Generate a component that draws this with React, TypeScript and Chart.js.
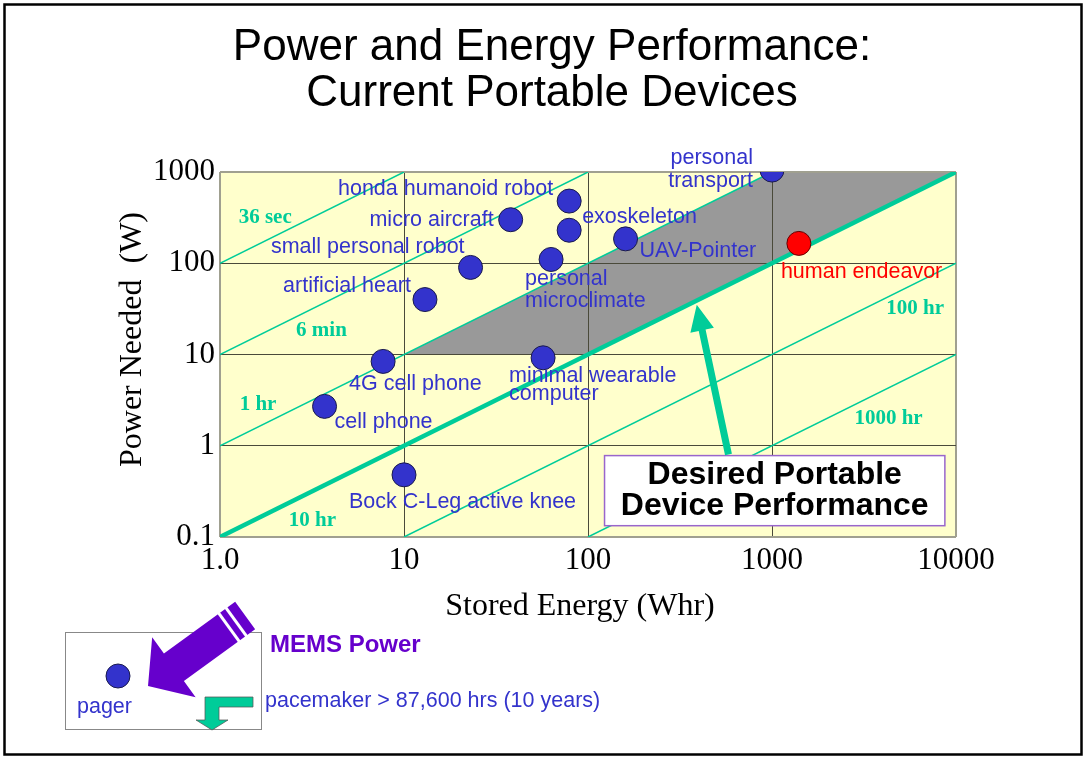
import React, { useEffect, useRef } from 'react';
import { Chart, registerables } from 'chart.js';

Chart.register(...registerables);

// ---------- data ----------
const deviceNames = [
  'honda humanoid robot',
  'exoskeleton',
  'micro aircraft',
  'small personal robot',
  'artificial heart',
  'personal\nmicroclimate',
  'UAV-Pointer',
  'personal\ntransport',
  '4G cell phone',
  'cell phone',
  'minimal wearable\ncomputer',
  'Bock C-Leg active knee',
];
const deviceEnergyWhr = [79, 79, 38, 23, 13, 63, 160, 1000, 7.7, 3.7, 57, 10];
const devicePowerW = [480, 230, 300, 90, 40, 110, 185, 1050, 8.4, 2.7, 9.2, 0.48];

const humanNames = ['human endeavor'];
const humanEnergyWhr = [1400];
const humanPowerW = [165];

const xTickValues = [1, 10, 100, 1000, 10000];
const xTickLabels = ['1.0', '10', '100', '1000', '10000'];
const yTickValues = [0.1, 1, 10, 100, 1000];
const yTickLabels = ['0.1', '1', '10', '100', '1000'];

const timeLineLabels = ['36 sec', '6 min', '1 hr', '10 hr', '100 hr', '1000 hr'];
const timeLineEnergyStart = [1, 1, 1, 1, 10, 100];
const timeLineEnergyEnd = [10, 100, 1000, 10000, 10000, 10000];
const timeLinePowerStart = [100, 10, 1, 0.1, 0.1, 0.1];
const timeLinePowerEnd = [1000, 1000, 1000, 1000, 100, 10];
const timeLabelEnergy = [1.76, 3.56, 1.61, 3.18, 6000, 4300];
const timeLabelPower = [313, 18.5, 2.8, 0.153, 31.6, 2.0];

const desiredRegionEnergy = [10, 100, 10000, 1000];
const desiredRegionPower = [10, 10, 1000, 1000];

const desiredText = ['Desired Portable', 'Device Performance'];
const titleLines = ['Power and Energy Performance:', 'Current Portable Devices'];
const xTitle = 'Stored Energy (Whr)';
const yTitle = 'Power Needed  (W)';
const memsText = 'MEMS Power';
const pagerText = 'pager';
const pacemakerText = 'pacemaker > 87,600 hrs (10 years)';

// ---------- layout / styles ----------
const SANS = '"Liberation Sans", Arial, Helvetica, sans-serif';
const SERIF = '"Liberation Serif", "Times New Roman", Times, serif';
const GREEN = '#00CC99';
const BLUE = '#3333CC';
const PURPLE = '#6600CC';

const deviceLabelLayout = [
  { align: 'right', dx: -16, dy: -12, lh: 22 },
  { align: 'left', dx: 13, dy: -13, lh: 22 },
  { align: 'right', dx: -17, dy: 0, lh: 22 },
  { align: 'right', dx: -6, dy: -20, lh: 22 },
  { align: 'right', dx: -14, dy: -13, lh: 22 },
  { align: 'left', dx: -26, dy: 20, lh: 22 },
  { align: 'left', dx: 14, dy: 12, lh: 22 },
  { align: 'right', dx: -19, dy: -12, lh: 23.5 },
  { align: 'left', dx: -34, dy: 23, lh: 22 },
  { align: 'left', dx: 10, dy: 16, lh: 22 },
  { align: 'left', dx: -34, dy: 18, lh: 18 },
  { align: 'left', dx: -55, dy: 27, lh: 22 },
];
const humanLabelLayout = [{ align: 'left', dx: -18, dy: 29, lh: 22 }];

const desiredBox = { e0: 123, e1: 8700, p0: 0.78, p1: 0.133 };
const desiredArrow = { fromE: 580, fromP: 0.8, toE: 390, toP: 35 };

const decorPlugin = {
  id: 'decor',
  beforeDraw(chart: any) {
    const { ctx, chartArea: a, scales } = chart;
    const x = scales.x;
    const y = scales.y;
    ctx.save();
    ctx.fillStyle = '#ffffff';
    ctx.fillRect(0, 0, chart.width, chart.height);
    ctx.fillStyle = '#FFFFCC';
    ctx.fillRect(a.left, a.top, a.right - a.left, a.bottom - a.top);
    ctx.beginPath();
    desiredRegionEnergy.forEach((e, i) => {
      const px = x.getPixelForValue(e);
      const py = y.getPixelForValue(desiredRegionPower[i]);
      if (i === 0) ctx.moveTo(px, py);
      else ctx.lineTo(px, py);
    });
    ctx.closePath();
    ctx.fillStyle = '#999999';
    ctx.fill();
    ctx.restore();
  },
  afterDatasetsDraw(chart: any) {
    const { ctx, scales } = chart;
    const x = scales.x;
    const y = scales.y;
    ctx.save();

    // time-line labels
    ctx.font = `bold 21px ${SERIF}`;
    ctx.fillStyle = GREEN;
    ctx.textAlign = 'center';
    ctx.textBaseline = 'middle';
    timeLineLabels.forEach((t, i) => {
      ctx.fillText(t, x.getPixelForValue(timeLabelEnergy[i]), y.getPixelForValue(timeLabelPower[i]));
    });

    // point labels
    const drawLabels = (dsIndex: number, names: string[], layout: any[], color: string) => {
      const meta = chart.getDatasetMeta(dsIndex);
      ctx.font = `21.5px ${SANS}`;
      ctx.fillStyle = color;
      ctx.textBaseline = 'middle';
      meta.data.forEach((pt: any, i: number) => {
        const L = layout[i];
        ctx.textAlign = L.align;
        names[i].split('\n').forEach((line, k) => {
          ctx.fillText(line, pt.x + L.dx, pt.y + L.dy + k * L.lh);
        });
      });
    };
    drawLabels(7, deviceNames, deviceLabelLayout, BLUE);
    drawLabels(6, humanNames, humanLabelLayout, '#FF0000');

    // desired box
    const bx0 = x.getPixelForValue(desiredBox.e0);
    const bx1 = x.getPixelForValue(desiredBox.e1);
    const by0 = y.getPixelForValue(desiredBox.p0);
    const by1 = y.getPixelForValue(desiredBox.p1);
    ctx.fillStyle = '#ffffff';
    ctx.fillRect(bx0, by0, bx1 - bx0, by1 - by0);
    ctx.strokeStyle = '#9966CC';
    ctx.lineWidth = 1.5;
    ctx.strokeRect(bx0, by0, bx1 - bx0, by1 - by0);
    ctx.fillStyle = '#000';
    ctx.font = `bold 32px ${SANS}`;
    ctx.textAlign = 'center';
    ctx.textBaseline = 'middle';
    const bcx = (bx0 + bx1) / 2;
    const bcy = (by0 + by1) / 2;
    ctx.fillText(desiredText[0], bcx, bcy - 15);
    ctx.fillText(desiredText[1], bcx, bcy + 16);

    // green arrow
    const ax0 = x.getPixelForValue(desiredArrow.fromE);
    const ay0 = y.getPixelForValue(desiredArrow.fromP);
    const ax1 = x.getPixelForValue(desiredArrow.toE);
    const ay1 = y.getPixelForValue(desiredArrow.toP);
    const len = Math.hypot(ax1 - ax0, ay1 - ay0);
    const ux = (ax1 - ax0) / len;
    const uy = (ay1 - ay0) / len;
    const nx = -uy;
    const ny = ux;
    const headL = 26;
    const headW = 12;
    const shaftW = 3.5;
    const hbx = ax1 - ux * headL;
    const hby = ay1 - uy * headL;
    ctx.fillStyle = GREEN;
    ctx.beginPath();
    ctx.moveTo(ax0 + nx * shaftW, ay0 + ny * shaftW);
    ctx.lineTo(hbx + nx * shaftW, hby + ny * shaftW);
    ctx.lineTo(hbx + nx * headW, hby + ny * headW);
    ctx.lineTo(ax1, ay1);
    ctx.lineTo(hbx - nx * headW, hby - ny * headW);
    ctx.lineTo(hbx - nx * shaftW, hby - ny * shaftW);
    ctx.lineTo(ax0 - nx * shaftW, ay0 - ny * shaftW);
    ctx.closePath();
    ctx.fill();
    ctx.restore();
  },
  afterDraw(chart: any) {
    const { ctx, chartArea: a } = chart;
    ctx.save();
    // title
    ctx.fillStyle = '#000';
    ctx.font = `44px ${SANS}`;
    ctx.textAlign = 'center';
    ctx.textBaseline = 'alphabetic';
    ctx.fillText(titleLines[0], 552, 60);
    ctx.fillText(titleLines[1], 552, 106);

    // axis titles
    ctx.font = `32px ${SERIF}`;
    ctx.textBaseline = 'middle';
    ctx.fillText(xTitle, (a.left + a.right) / 2 - 8, 607);
    ctx.save();
    ctx.translate(133, (a.top + a.bottom) / 2-15);
    ctx.rotate(-Math.PI / 2);
    ctx.fillText(yTitle, 0, 0);
    ctx.restore();

    // bottom inset box
    ctx.strokeStyle = '#888';
    ctx.lineWidth = 1;
    ctx.strokeRect(65.5, 632.5, 196, 97);
    // pager dot
    ctx.beginPath();
    ctx.arc(118, 676, 12, 0, Math.PI * 2);
    ctx.fillStyle = BLUE;
    ctx.fill();
    ctx.strokeStyle = '#1a1a4d';
    ctx.stroke();
    ctx.font = `21.5px ${SANS}`;
    ctx.fillStyle = BLUE;
    ctx.textAlign = 'left';
    ctx.fillText(pagerText, 77, 707);

    // purple arrow
    const tx = 148, ty = 686;
    const ux = 0.8095, uy = -0.5873;
    const nx = 0.5873, ny = 0.8095;
    const P = (d: number, w: number) => [tx + ux * d + nx * w, ty + uy * d + ny * w];
    const pts = [P(0, 0), P(32, 37), P(32, 17), P(120, 17), P(120, -17), P(32, -17), P(32, -37)];
    ctx.beginPath();
    pts.forEach((p, i) => (i ? ctx.lineTo(p[0], p[1]) : ctx.moveTo(p[0], p[1])));
    ctx.closePath();
    ctx.fillStyle = PURPLE;
    ctx.fill();
    ctx.strokeStyle = '#ffffff';
    ctx.lineWidth = 3;
    [100, 109].forEach((d) => {
      const p1 = P(d, 19);
      const p2 = P(d, -19);
      ctx.beginPath();
      ctx.moveTo(p1[0], p1[1]);
      ctx.lineTo(p2[0], p2[1]);
      ctx.stroke();
    });

    // green bent arrow
    const g = [[205, 697], [253, 697], [253, 707], [219, 707], [219, 720], [228, 720], [212, 730], [196, 720], [205, 720]];
    ctx.beginPath();
    g.forEach((p, i) => (i ? ctx.lineTo(p[0], p[1]) : ctx.moveTo(p[0], p[1])));
    ctx.closePath();
    ctx.fillStyle = GREEN;
    ctx.fill();
    ctx.strokeStyle = '#555';
    ctx.lineWidth = 0.75;
    ctx.stroke();

    // MEMS text
    ctx.font = `bold 24px ${SANS}`;
    ctx.fillStyle = PURPLE;
    ctx.textAlign = 'left';
    ctx.fillText(memsText, 270, 645);
    ctx.font = `21.5px ${SANS}`;
    ctx.fillStyle = BLUE;
    ctx.fillText(pacemakerText, 265, 701);

    // frame
    ctx.strokeStyle = '#000';
    ctx.lineWidth = 2.5;
    ctx.strokeRect(4.5, 4.5, 1077, 750);
    ctx.restore();
  },
};

export default function App() {
  const canvasRef = useRef<HTMLCanvasElement | null>(null);

  useEffect(() => {
    if (!canvasRef.current) return;
    const timeLineDatasets = timeLineLabels.map((lbl, i) => ({
      type: 'line' as const,
      label: lbl,
      data: [
        { x: timeLineEnergyStart[i], y: timeLinePowerStart[i] },
        { x: timeLineEnergyEnd[i], y: timeLinePowerEnd[i] },
      ],
      showLine: true,
      borderColor: GREEN,
      borderWidth: lbl === '10 hr' ? 4.5 : 1.5,
      pointRadius: 0,
      fill: false,
      order: 5,
    }));

    const gridColor = (c: any) => {
      const v = c.tick && c.tick.value;
      return v === 1 || v === 10000 || v === 0.1 || v === 1000 ? '#a0a090' : '#4a4a3a';
    };
    const gridColorX = (c: any) => {
      const v = c.tick && c.tick.value;
      return v === xTickValues[0] || v === xTickValues[xTickValues.length - 1] ? '#a0a090' : '#4a4a3a';
    };
    const gridColorY = (c: any) => {
      const v = c.tick && c.tick.value;
      return v === yTickValues[0] || v === yTickValues[yTickValues.length - 1] ? '#a0a090' : '#4a4a3a';
    };
    void gridColor;

    const chart = new Chart(canvasRef.current, {
      type: 'scatter',
      data: {
        datasets: [
          ...timeLineDatasets,
          {
            type: 'scatter' as const,
            label: humanNames[0],
            data: humanEnergyWhr.map((e, i) => ({ x: e, y: humanPowerW[i] })),
            pointRadius: 12,
            pointHoverRadius: 12,
            backgroundColor: '#FF0000',
            borderColor: '#660000',
            borderWidth: 1,
            order: 0,
          },
          {
            type: 'scatter' as const,
            label: 'devices',
            data: deviceEnergyWhr.map((e, i) => ({ x: e, y: devicePowerW[i] })),
            pointRadius: 12,
            pointHoverRadius: 12,
            backgroundColor: BLUE,
            borderColor: '#1a1a4d',
            borderWidth: 1,
            order: 0,
          },
        ],
      } as any,
      options: {
        responsive: false,
        animation: false,
        devicePixelRatio: 1,
        layout: { padding: { left: 0, top: 172, right: 130, bottom: 0 } },
        plugins: { legend: { display: false }, tooltip: { enabled: false }, title: { display: false } },
        events: [],
        scales: {
          x: {
            type: 'logarithmic',
            min: 1,
            max: 10000,
            afterBuildTicks: (s: any) => {
              s.ticks = xTickValues.map((v) => ({ value: v }));
            },
            afterFit: (s: any) => {
              s.height = 224;
            },
            ticks: {
              callback: (_v: any, i: number) => xTickLabels[i],
              font: { family: SERIF, size: 31 },
              color: '#000',
              padding: 5,
              maxRotation: 0,
              autoSkip: false,
            },
            grid: {
              color: gridColorX,
              lineWidth: (c: any) => (c.tick && (c.tick.value === 1 || c.tick.value === 10000) ? 2 : 1),
              drawTicks: false,
            },
            border: { display: false },
          },
          y: {
            type: 'logarithmic',
            min: 0.1,
            max: 1000,
            afterBuildTicks: (s: any) => {
              s.ticks = yTickValues.map((v) => ({ value: v }));
            },
            afterFit: (s: any) => {
              s.width = 220;
            },
            ticks: {
              callback: (_v: any, i: number) => yTickLabels[i],
              font: { family: SERIF, size: 31 },
              color: '#000',
              padding: 5,
              autoSkip: false,
            },
            grid: {
              color: gridColorY,
              lineWidth: (c: any) => (c.tick && (c.tick.value === 0.1 || c.tick.value === 1000) ? 2 : 1),
              drawTicks: false,
            },
            border: { display: false },
          },
        },
      } as any,
      plugins: [decorPlugin],
    });
    return () => chart.destroy();
  }, []);

  return (
    <div style={{ position: 'absolute', left: 0, top: 0, width: 1086, height: 761, background: '#fff' }}>
      <canvas ref={canvasRef} width={1086} height={761} style={{ display: 'block', width: 1086, height: 761 }} />
    </div>
  );
}
